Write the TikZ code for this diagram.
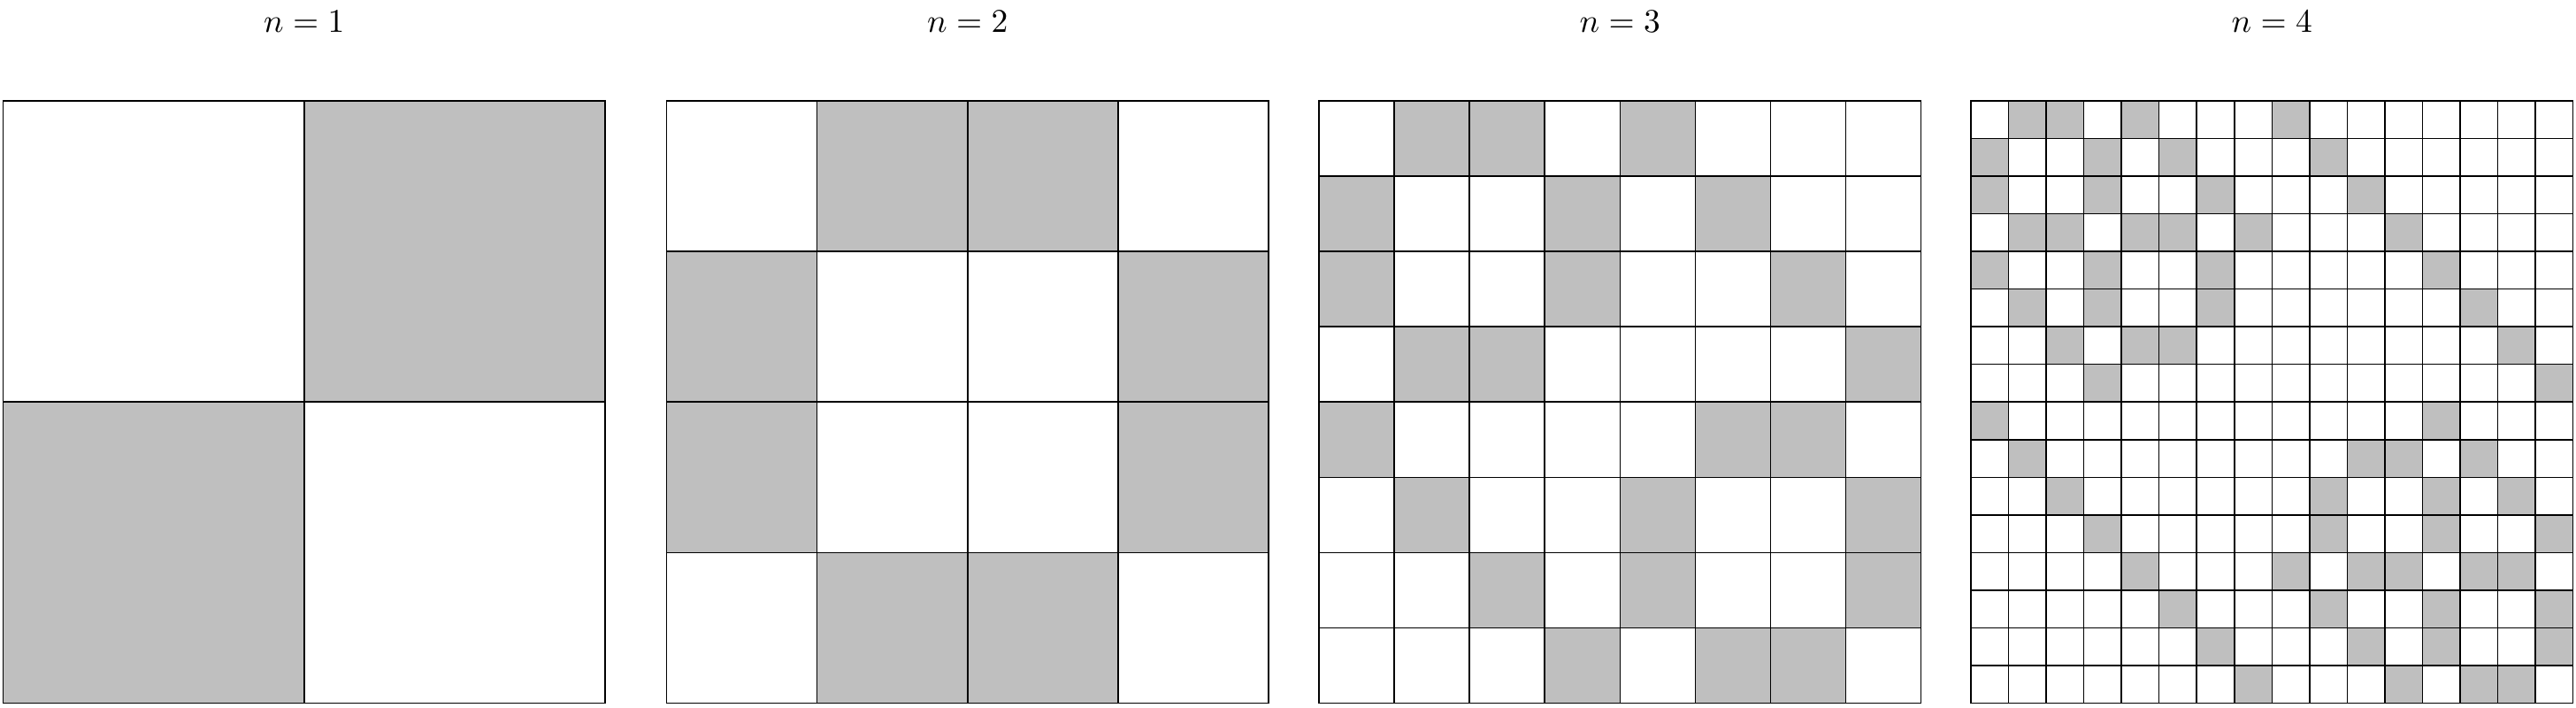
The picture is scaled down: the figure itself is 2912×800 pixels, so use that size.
\documentclass[tikz,border=0pt]{standalone}
\begin{document}
\begin{tikzpicture}[x=0.26667pt,y=-0.26667pt,
  cellfill/.style={fill=lightgray},
  gridline/.style={line width=0.4pt, black},
  title/.style={anchor=base, inner sep=0pt, font=\normalsize}]
\useasboundingbox (0,0) rectangle (2912,800);
\def\S{680.5}
\def\T{114}
% grid macro: #1 left x, #2 number of cells, #3 list of row/col gray cells
\newcommand\drawgridcells[3]{%
  \begin{scope}[shift={(#1,\T)}]
    \pgfmathsetmacro\cs{\S/#2}
    \foreach \r/\c in {#3} {\fill[cellfill] (\c*\cs,\r*\cs) rectangle ++(\cs,\cs);}
    \foreach \i in {1,...,#2} {%
      \draw[gridline] (\i*\cs,0) -- (\i*\cs,\S);
      \draw[gridline] (0,\i*\cs) -- (\S,\i*\cs);}
    \draw[gridline] (0,0) rectangle (\S,\S);
  \end{scope}}

\drawgridcells{3.5}{2}{0/1,1/0}
\drawgridcells{753.5}{4}{0/1,0/2,1/0,1/3,2/0,2/3,3/1,3/2}
\drawgridcells{1491}{8}{0/1,0/2,0/4,1/0,1/3,1/5,2/0,2/3,2/6,3/1,3/2,3/7,4/0,4/5,4/6,5/1,5/4,5/7,6/2,6/4,6/7,7/3,7/5,7/6}
\drawgridcells{2228}{16}{0/1,0/2,0/4,0/8,
  1/0,1/3,1/5,1/9,
  2/0,2/3,2/6,2/10,
  3/1,3/2,3/4,3/5,3/7,3/11,
  4/0,4/3,4/6,4/12,
  5/1,5/3,5/6,5/13,
  6/2,6/4,6/5,6/14,
  7/3,7/15,
  8/0,8/12,
  9/1,9/10,9/11,9/13,
  10/2,10/9,10/12,10/14,
  11/3,11/9,11/12,11/15,
  12/4,12/8,12/10,12/11,12/13,12/14,
  13/5,13/9,13/12,13/15,
  14/6,14/10,14/12,14/15,
  15/7,15/11,15/13,15/14}

\node[title] (t1) at (343.75,37) {$n=1$};
\node[title] (t2) at (1093.75,37) {$n=2$};
\node[title] (t3) at (1831.25,37) {$n=3$};
\node[title] (t4) at (2568.25,37) {$n=4$};
\end{tikzpicture}
\end{document}
